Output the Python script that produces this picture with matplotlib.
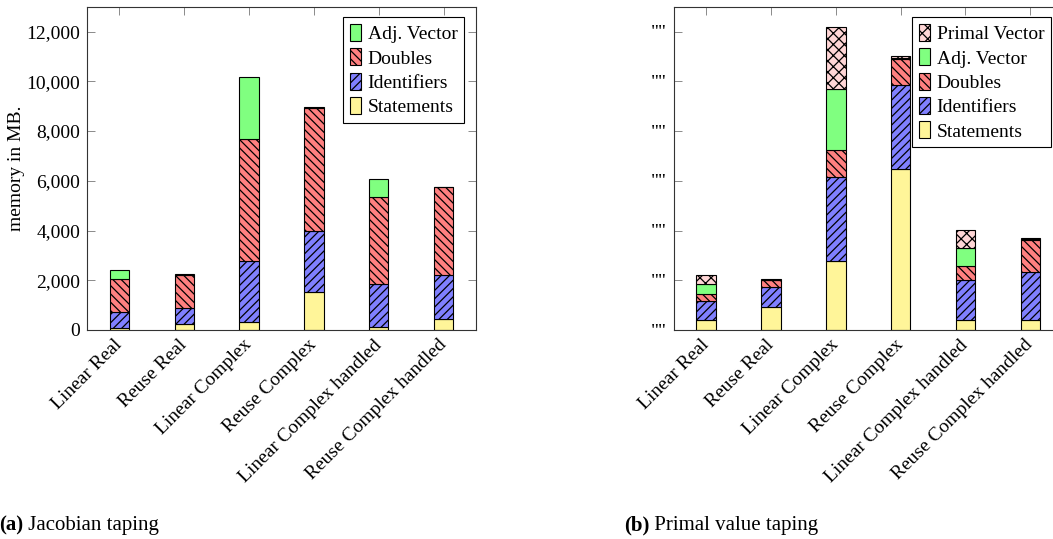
import matplotlib
matplotlib.use("Agg")
import matplotlib.pyplot as plt
import matplotlib.transforms as mtransforms
import numpy as np

plt.rcParams['font.family'] = ['Liberation Serif', 'DejaVu Serif']
plt.rcParams['font.size'] = 14
plt.rcParams['hatch.linewidth'] = 0.9

categories = ['Linear Real', 'Reuse Real', 'Linear Complex', 'Reuse Complex',
              'Linear Complex handled', 'Reuse Complex handled']

# (a) Jacobian taping, memory in MB per category
jac_statements = [90, 225, 310, 1540, 105, 455]
jac_identifiers = [620, 645, 2450, 2455, 1745, 1745]
jac_doubles = [1330, 1355, 4935, 4935, 3515, 3540]
jac_adjoint = [360, 15, 2470, 40, 725, 25]

# (b) Primal value taping
pv_statements = [400, 940, 2790, 6490, 400, 400]
pv_identifiers = [780, 795, 3360, 3355, 1615, 1950]
pv_doubles = [280, 265, 1075, 1060, 540, 1275]
pv_adjoint = [375, 20, 2455, 45, 725, 35]
pv_primal = [365, 20, 2510, 50, 740, 35]

yticks = [0, 2000, 4000, 6000, 8000, 10000, 12000]

colors = {'Statements': '#fff599', 'Identifiers': '#8080ff', 'Doubles': '#ff8080',
          'Adj. Vector': '#80ff80', 'Primal Vector': '#ffd6d6'}
hatches = {'Statements': None, 'Identifiers': '////', 'Doubles': '\\\\\\\\',
           'Adj. Vector': None, 'Primal Vector': 'xxx'}

fig = plt.figure(figsize=(10.53, 5.39), dpi=100)
W, H = 1053, 539
ax1 = fig.add_axes([87 / W, (H - 330) / H, 389 / W, 323.3 / H])
ax2 = fig.add_axes([673.7 / W, (H - 330) / H, 389 / W, 323.3 / H])

shift = mtransforms.ScaledTranslation(4 / 100, -3 / 100, fig.dpi_scale_trans)


def stacked(ax, series):
    x = np.arange(len(categories))
    bottom = np.zeros(len(categories))
    handles = []
    for name, vals in series:
        b = ax.bar(x, vals, 0.3, bottom=bottom, color=colors[name], edgecolor='black',
                   linewidth=0.8, hatch=hatches[name], label=name, zorder=2)
        handles.append(b)
        bottom += np.array(vals)
    ax.set_xlim(-0.5, 5.5)
    ax.set_ylim(0, 13000)
    ax.set_xticks(x)
    ax.set_xticklabels(categories, rotation=45, ha='right', va='center',
                       rotation_mode='anchor')
    for lbl in ax.get_xticklabels():
        lbl.set_transform(lbl.get_transform() + shift)
    ax.set_yticks(yticks)
    ax.tick_params(direction='in', length=5.5, width=0.6, color='#777777',
                   top=True, right=True, pad=5)
    ax.tick_params(axis='x', pad=9)
    for s in ax.spines.values():
        s.set_color('#333333')
        s.set_linewidth(0.8)
    leg = ax.legend(handles[::-1], [h.get_label() for h in handles][::-1],
                    loc='upper right', bbox_to_anchor=(0.97, 0.967), borderaxespad=0,
                    fancybox=False, edgecolor='black', framealpha=1,
                    handlelength=0.55, handleheight=0.95, handletextpad=0.35,
                    labelspacing=0.27, borderpad=0.35)
    leg.get_frame().set_linewidth(0.8)
    return handles


stacked(ax1, [('Statements', jac_statements), ('Identifiers', jac_identifiers),
              ('Doubles', jac_doubles), ('Adj. Vector', jac_adjoint)])
ax1.set_yticklabels([f'{v:,}' for v in yticks])
ax1.set_ylabel('memory in MB.')
ax1.yaxis.set_label_coords(-0.159, 0.5)

stacked(ax2, [('Statements', pv_statements), ('Identifiers', pv_identifiers),
              ('Doubles', pv_doubles), ('Adj. Vector', pv_adjoint),
              ('Primal Vector', pv_primal)])
ax2.set_yticklabels(['""'] * len(yticks))

ta = fig.text(-1 / W, 9 / H, '(a)', fontweight='bold', va='baseline', ha='left',
              fontsize=15)
ax1.annotate(' Jacobian taping', xy=(1, 0), xycoords=ta, va='bottom', ha='left',
             annotation_clip=False, fontsize=15)
tb = fig.text(624 / W, 9 / H, '(b)', fontweight='bold', va='baseline', ha='left',
              fontsize=15)
ax2.annotate(' Primal value taping', xy=(1, 0), xycoords=tb, va='bottom', ha='left',
             annotation_clip=False, fontsize=15)

fig.savefig('out.png', dpi=100)
